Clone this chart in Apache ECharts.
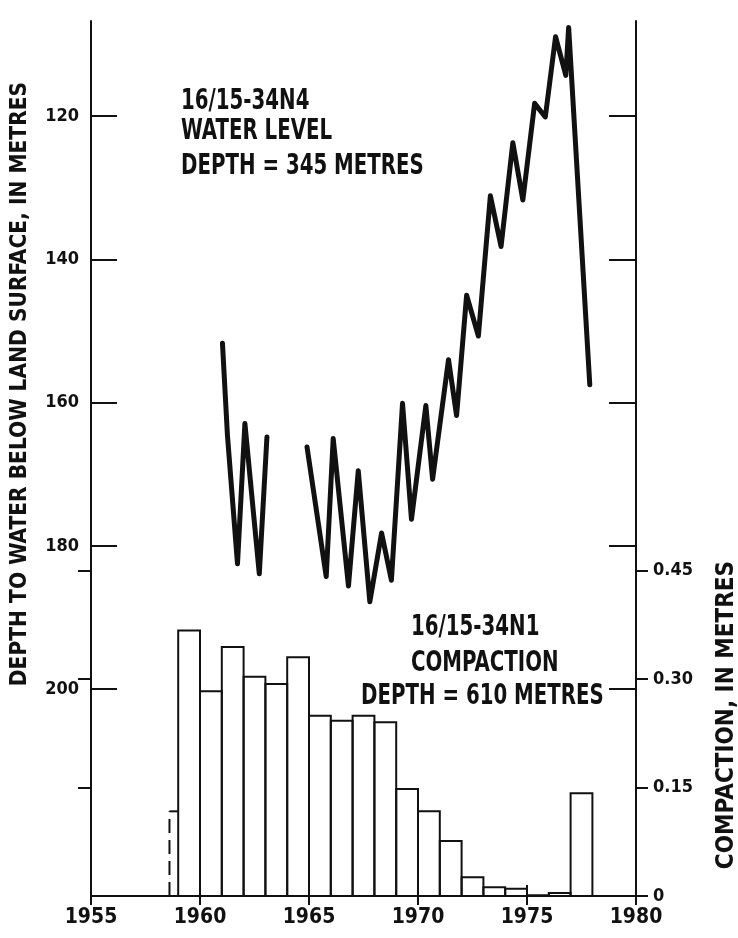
<!DOCTYPE html>
<html>
<head>
<meta charset="utf-8">
<script src="https://cdn.jsdelivr.net/npm/echarts@6/dist/echarts.min.js"></script>
<style>
html,body{margin:0;padding:0;background:#fff;}
#c{width:738px;height:938px;}
</style>
</head>
<body>
<div id="c"></div>
<script>
// ---- data ----
const wellA_years = [1961.03, 1961.26, 1961.72, 1962.06, 1962.72, 1963.07];
const wellA_depth = [151.7, 164.6, 182.5, 162.9, 183.9, 164.8];
const wellB_years = [1964.91, 1965.79, 1966.11, 1966.81, 1967.26, 1967.79, 1968.33, 1968.78, 1969.29, 1969.70,
  1970.36, 1970.67, 1971.40, 1971.77, 1972.23, 1972.77, 1973.32, 1973.81, 1974.35, 1974.81,
  1975.35, 1975.84, 1976.31, 1976.78, 1976.91, 1977.88];
const wellB_depth = [166.2, 184.3, 165.0, 185.6, 169.5, 187.8, 178.2, 184.8, 160.1, 176.3,
  160.4, 170.7, 154.0, 161.8, 145.0, 150.7, 131.1, 138.2, 123.7, 131.7,
  118.2, 120.1, 108.9, 114.3, 107.6, 157.5];
const compactionYears = [1959, 1960, 1961, 1962, 1963, 1964, 1965, 1966, 1967, 1968,
  1969, 1970, 1971, 1972, 1973, 1974, 1975, 1976, 1977];
const compactionValues = [0.367, 0.283, 0.344, 0.303, 0.293, 0.330, 0.249, 0.242, 0.249, 0.240,
  0.148, 0.117, 0.076, 0.026, 0.012, 0.010, 0.001, 0.004, 0.142];
const partialStart = [1958.6];
const partialEnd = [1959.0];
const partialValue = [0.117];
const depthTicks = [120, 140, 160, 180, 200];
const compactionTicks = [0, 0.15, 0.30, 0.45];
const yearTicks = [1955, 1960, 1965, 1970, 1975, 1980];

// ---- build ----
const segA = wellA_years.map((y, i) => [y, wellA_depth[i]]);
const segB = wellB_years.map((y, i) => [y, wellB_depth[i]]);
const bars = compactionYears.map((y, i) => [y, y + 1, compactionValues[i], 0]);
partialStart.forEach((s, i) => bars.push([s, partialEnd[i], partialValue[i], 1]));

const INK = '#111';
const condFont = '"DejaVu Sans Condensed", "DejaVu Sans", sans-serif';

function renderBar(params, api) {
  const x0 = api.value(0), x1 = api.value(1), v = api.value(2), dashed = api.value(3);
  const pA = api.coord([x0, 0]);
  const pB = api.coord([x1, v]);
  if (dashed) {
    return {
      type: 'group',
      children: [
        { type: 'line', shape: { x1: pA[0], y1: pA[1], x2: pA[0], y2: pB[1] },
          style: { stroke: INK, lineWidth: 2, lineDash: [14, 7] } },
        { type: 'line', shape: { x1: pA[0], y1: pB[1], x2: pB[0], y2: pB[1] },
          style: { stroke: INK, lineWidth: 2 } }
      ]
    };
  }
  return {
    type: 'polyline',
    shape: { points: [[pA[0], pA[1]], [pA[0], pB[1]], [pB[0], pB[1]], [pB[0], pA[1]]] },
    style: { stroke: INK, lineWidth: 2, fill: null }
  };
}

function note(text, x, y) {
  return { type: 'text', x: x, y: y, scaleY: 1.3,
    style: { text: text, x: 0, y: 0, align: 'left', verticalAlign: 'middle', textVerticalAlign: 'middle',
      font: 'bold 22px ' + condFont, fill: INK } };
}

const chart = echarts.init(document.getElementById('c'), null, { renderer: 'canvas' });

const axisLineStyle = { show: true, lineStyle: { color: INK, width: 2 } };

const option = {
  backgroundColor: '#fff',
  animation: false,
  grid: { left: 91, right: 102, top: 21, bottom: 42, containLabel: false },
  xAxis: [
    {
      type: 'value', position: 'bottom', min: 1955, max: 1980,
      axisLine: axisLineStyle,
      axisTick: { show: true, inside: false, length: 9, lineStyle: { color: INK, width: 2 }, customValues: yearTicks },
      axisLabel: { customValues: yearTicks, margin: 11, color: INK, fontFamily: condFont, fontWeight: 'bold', fontSize: 21,
        formatter: v => String(v) },
      splitLine: { show: false }
    },
    {
      type: 'value', position: 'top', min: 1955, max: 1980,
      axisLine: axisLineStyle,
      axisTick: { show: true, inside: false, length: 11, lineStyle: { color: INK, width: 2 }, customValues: yearTicks },
      axisLabel: { show: false },
      splitLine: { show: false }
    }
  ],
  yAxis: [
    {
      type: 'value', position: 'left', inverse: true, min: 106.7, max: 228.9,
      axisLine: axisLineStyle,
      axisTick: { show: true, inside: true, length: 26, lineStyle: { color: INK, width: 2 }, customValues: depthTicks },
      axisLabel: { customValues: depthTicks, margin: 12, color: INK, fontFamily: condFont, fontWeight: 'bold', fontSize: 18 },
      splitLine: { show: false }
    },
    {
      type: 'value', position: 'right', min: 0, max: 1.209,
      axisLine: axisLineStyle,
      axisTick: { show: true, inside: false, length: 12, lineStyle: { color: INK, width: 2 }, customValues: compactionTicks },
      axisLabel: { customValues: compactionTicks, margin: 17, color: INK, fontFamily: condFont, fontWeight: 'bold', fontSize: 18,
        formatter: v => (v === 0 ? '0' : v.toFixed(2)) },
      splitLine: { show: false }
    },
    {
      type: 'value', position: 'left', min: 0, max: 1.209,
      axisLine: { show: false },
      axisTick: { show: true, inside: false, length: 13, lineStyle: { color: INK, width: 2 }, customValues: [0.15, 0.30, 0.45] },
      axisLabel: { show: false },
      splitLine: { show: false }
    },
    {
      type: 'value', position: 'right', inverse: true, min: 106.7, max: 228.9,
      axisLine: { show: false },
      axisTick: { show: true, inside: true, length: 27, lineStyle: { color: INK, width: 2 }, customValues: depthTicks },
      axisLabel: { show: false },
      splitLine: { show: false }
    }
  ],
  series: [
    {
      type: 'custom', name: 'compaction', xAxisIndex: 0, yAxisIndex: 1,
      renderItem: renderBar, data: bars, encode: { x: [0, 1], y: 2 }, clip: false
    },
    {
      type: 'line', name: 'water level A', xAxisIndex: 0, yAxisIndex: 0, data: segA,
      showSymbol: false, lineStyle: { color: INK, width: 5, join: 'round', cap: 'round' }
    },
    {
      type: 'line', name: 'water level B', xAxisIndex: 0, yAxisIndex: 0, data: segB,
      showSymbol: false, lineStyle: { color: INK, width: 5, join: 'round', cap: 'round' }
    }
  ],
  graphic: [
    { type: 'text', x: 20, y: 384, rotation: Math.PI / 2,
      style: { text: 'DEPTH TO WATER BELOW LAND SURFACE, IN METRES', x: 0, y: 0, align: 'center', verticalAlign: 'middle',
        textAlign: 'center', textVerticalAlign: 'middle', font: 'bold 22.5px ' + condFont, fill: INK } },
    { type: 'text', x: 727, y: 715, rotation: Math.PI / 2,
      style: { text: 'COMPACTION, IN METRES', x: 0, y: 0, align: 'center', verticalAlign: 'middle',
        textAlign: 'center', textVerticalAlign: 'middle', font: 'bold 24px ' + condFont, fill: INK } },
    note('16/15-34N4', 181, 102),
    note('WATER LEVEL', 181, 132),
    note('DEPTH = 345 METRES', 181, 166.5),
    note('16/15-34N1', 411, 628),
    note('COMPACTION', 411, 663.5),
    note('DEPTH = 610 METRES', 361, 697)
  ]
};
chart.setOption(option);
</script>
</body>
</html>
